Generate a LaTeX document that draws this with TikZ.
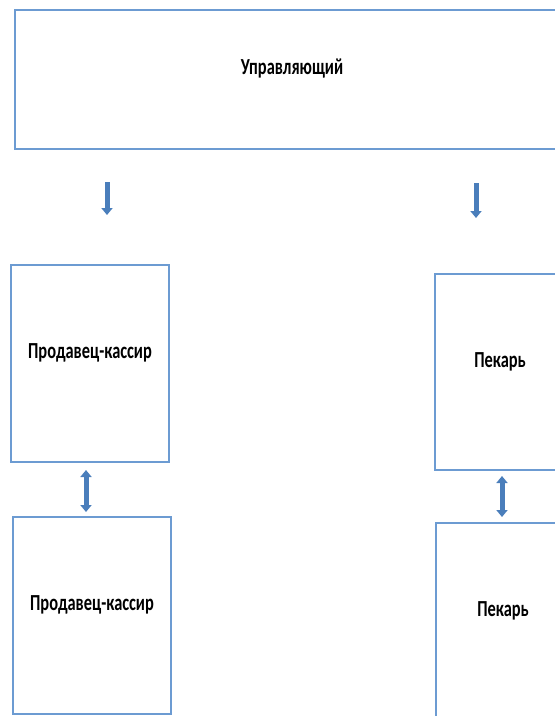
\documentclass[tikz,border=0pt]{standalone}
\usepackage{fontspec}
\setmainfont{Carlito}
\usetikzlibrary{calc, positioning, arrows.meta}
\definecolor{boxblue}{RGB}{108,155,210}
\definecolor{arrowblue}{RGB}{74,126,187}
\newcommand{\tall}[1]{\scalebox{1}[1.4]{#1}}

\begin{document}
\begin{tikzpicture}[x=1pt, y=-1pt,
  post/.style={draw=boxblue, line width=2pt, rectangle, font=\bfseries\fontsize{16.4}{18}\selectfont, text height=16pt, text depth=26pt, inner sep=0pt},
  down/.style={arrowblue, line width=5pt, -{Triangle[width=11pt,length=7pt]}},
  duo/.style={arrowblue, line width=5pt, {Triangle[width=11pt,length=7pt]}-{Triangle[width=11pt,length=7pt]}}]
\clip (0,0) rectangle (555,716);
\fill[white] (0,0) rectangle (555,716);
\node[post, minimum width=554pt, minimum height=139pt] (boss) at (292,79.5) {\tall{Управляющий}};
\node[post, minimum width=158pt, minimum height=197pt] (cashier1) at (90,363.5) {\tall{Продавец-кассир}};
\node[post, minimum width=158pt, minimum height=197pt] (cashier2) at (92,615.5) {\tall{Продавец-кассир}};
\node[post, minimum width=130pt, minimum height=196pt] (baker1) at (500,372) {\tall{Пекарь}};
\node[post, minimum width=134pt, minimum height=196pt] (baker2) at (503,621) {\tall{Пекарь}};
\coordinate (l1) at (107,182);
\coordinate (l2) at (107,215);
\coordinate (r1) at (476,183);
\coordinate (r2) at (476,218);
\draw[down] (l1) -- (l2);
\draw[down] (r1) -- (r2);
\draw[duo, shorten <=7pt, shorten >=4pt] ([xshift=-4pt]cashier1.south) -- ([xshift=-4pt]cashier1.south |- cashier2.north);
\draw[duo, shorten <=5pt, shorten >=5pt] ([xshift=2pt]baker1.south) -- ([xshift=2pt]baker1.south |- baker2.north);
\end{tikzpicture}
\end{document}
